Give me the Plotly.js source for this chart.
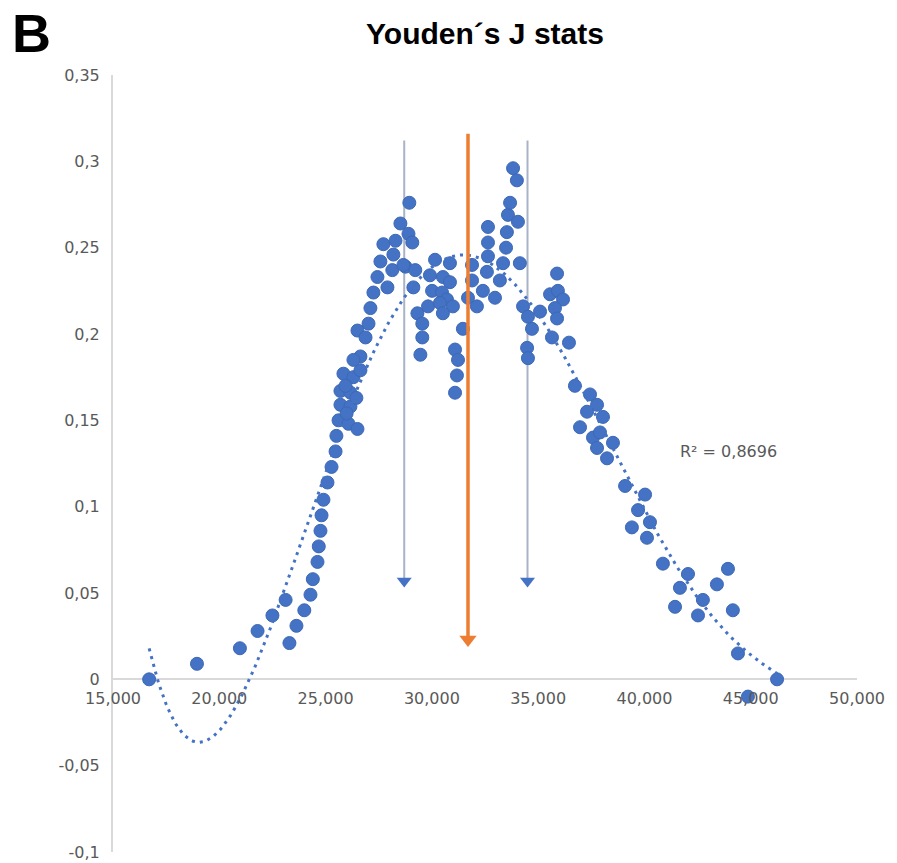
<!DOCTYPE html>
<html>
<head>
<meta charset="utf-8">
<script src="https://cdn.plot.ly/plotly-3.0.1.min.js"></script>
<style>html,body{margin:0;padding:0;background:#fff;}#chart{width:897px;height:863px;}</style>
</head>
<body>
<div id="chart"></div>
<script>
// ---- data ----
const cutoffX = [16700,18950,20970,21800,22500,23120,23300,23630,24000,24290,24400,24620,24680,24760,24810,24900,25090,25280,25470,25510,
  25610,26080,25700,26170,25700,26170,25840,26310,26640,26640,26310,25940,26450,25990,26500,
  26500,26880,27020,27110,27250,27440,27910,27580,28140,27720,28190,28290,28520,28900,29080,28940,28760,29220,29130,28660,
  29320,29550,29550,29460,
  30150,30850,29910,30520,30850,30010,30480,30710,29820,30380,30990,30520,31090,31230,31180,31090,31460,
  31890,31890,31700,32120,32400,32970,32640,32640,32640,32590,33200,33530,33490,33350,33580,34050,34140,33680,33820,34000,
  34290,34520,34710,34480,34520,35090,35890,35560,35930,36170,35790,35890,35650,36450,
  36730,37440,37770,37300,38050,36970,37580,37910,37770,38520,38240,
  39090,40030,39700,40260,39410,40120,40870,42050,41670,41440,42750,42520,43410,43930,44160,44400,46240,44870];
const youdenJ = [0.000,0.009,0.018,0.028,0.037,0.046,0.021,0.031,0.040,0.049,0.058,0.068,0.077,0.086,0.095,0.104,0.114,0.123,0.132,0.141,
  0.150,0.148,0.159,0.158,0.167,0.166,0.177,0.175,0.179,0.187,0.185,0.170,0.163,0.154,0.145,
  0.202,0.198,0.206,0.215,0.224,0.233,0.227,0.242,0.237,0.252,0.246,0.254,0.264,0.258,0.253,0.276,0.239,0.237,0.227,0.240,
  0.212,0.206,0.198,0.188,
  0.243,0.241,0.234,0.233,0.230,0.225,0.224,0.220,0.216,0.218,0.216,0.212,0.191,0.185,0.176,0.166,0.203,
  0.240,0.231,0.221,0.216,0.225,0.221,0.262,0.253,0.245,0.236,0.231,0.259,0.250,0.241,0.269,0.265,0.241,0.276,0.296,0.289,
  0.216,0.210,0.203,0.192,0.186,0.213,0.235,0.223,0.225,0.220,0.215,0.209,0.198,0.195,
  0.170,0.165,0.159,0.155,0.152,0.146,0.140,0.143,0.134,0.137,0.128,
  0.112,0.107,0.098,0.091,0.088,0.082,0.067,0.061,0.053,0.042,0.046,0.037,0.055,0.064,0.040,0.015,0.000,-0.010];

// vertical reference arrows (cut-off positions)
const arrowX    = [28700, 34500];
const arrowTop  = [0.312, 0.312];
const arrowTip  = [0.057, 0.057];
const mainArrowX   = [31700];
const mainArrowTop = [0.316];
const mainArrowTip = [0.023];

const xTickVals = [15000,20000,25000,30000,35000,40000,45000,50000];
const xTickText = ['15,000','20,000','25,000','30,000','35,000','40,000','45,000','50,000'];
const yTickVals = [-0.1,-0.05,0,0.05,0.1,0.15,0.2,0.25,0.3,0.35];
const yTickText = ['-0,1','-0,05','0','0,05','0,1','0,15','0,2','0,25','0,3','0,35'];

const r2Label = 'R² = 0,8696';
const r2Pos = [41600, 0.132];
const polyOrder = 6;

// ---- polynomial trendline (least squares, as the spreadsheet trendline) ----
function polyfit(xs, ys, deg, c, s) {
  const n = deg + 1;
  const A = Array.from({length:n}, () => new Array(n).fill(0));
  const b = new Array(n).fill(0);
  for (let k = 0; k < xs.length; k++) {
    const t = (xs[k] - c) / s;
    const p = [];
    for (let i = 0; i < n; i++) p.push(Math.pow(t, i));
    for (let i = 0; i < n; i++) {
      b[i] += p[i] * ys[k];
      for (let j = 0; j < n; j++) A[i][j] += p[i] * p[j];
    }
  }
  for (let i = 0; i < n; i++) {
    let m = i;
    for (let r = i + 1; r < n; r++) if (Math.abs(A[r][i]) > Math.abs(A[m][i])) m = r;
    [A[i], A[m]] = [A[m], A[i]]; [b[i], b[m]] = [b[m], b[i]];
    for (let r = i + 1; r < n; r++) {
      const f = A[r][i] / A[i][i];
      for (let j = i; j < n; j++) A[r][j] -= f * A[i][j];
      b[r] -= f * b[i];
    }
  }
  const coef = new Array(n).fill(0);
  for (let i = n - 1; i >= 0; i--) {
    let sum = b[i];
    for (let j = i + 1; j < n; j++) sum -= A[i][j] * coef[j];
    coef[i] = sum / A[i][i];
  }
  return coef;
}
const xmin = Math.min(...cutoffX), xmax = Math.max(...cutoffX);
const cC = (xmin + xmax) / 2, sC = (xmax - xmin) / 2;
const coef = polyfit(cutoffX, youdenJ, polyOrder, cC, sC);
const trendX = [], trendY = [];
for (let i = 0; i <= 300; i++) {
  const x = xmin + (xmax - xmin) * i / 300;
  const t = (x - cC) / sC;
  let y = 0;
  for (let j = coef.length - 1; j >= 0; j--) y = y * t + coef[j];
  trendX.push(x); trendY.push(y);
}

const tickFont = {family:'DejaVu Sans, sans-serif', size:16, color:'#595959'};

const traces = [
  {x: cutoffX, y: youdenJ, type:'scatter', mode:'markers',
   marker:{size:13, color:'#4472c4', line:{width:1, color:'#3d68b5'}}, hoverinfo:'x+y'},
  {x: trendX, y: trendY, type:'scatter', mode:'lines',
   line:{color:'#4472c4', width:3, dash:'3px,5px'}, hoverinfo:'skip'},
  {x: arrowX, y: arrowTip, type:'scatter', mode:'markers',
   marker:{symbol:'triangle-down', size:13, color:'#4472c4'}, hoverinfo:'skip'},
  {x: mainArrowX, y: mainArrowTip, type:'scatter', mode:'markers',
   marker:{symbol:'triangle-down', size:15, color:'#ed7d31'}, hoverinfo:'skip'}
];

const shapes = [];
arrowX.forEach((x, i) => shapes.push({type:'line', xref:'x', yref:'y', x0:x, x1:x, y0:arrowTop[i], y1:arrowTip[i],
  line:{color:'#a9b3c6', width:2}, layer:'below'}));
mainArrowX.forEach((x, i) => shapes.push({type:'line', xref:'x', yref:'y', x0:x, x1:x, y0:mainArrowTop[i], y1:mainArrowTip[i],
  line:{color:'#ed7d31', width:3.5}, layer:'above'}));

const layout = {
  width: 897, height: 863,
  margin: {l:113, r:40, t:75, b:11, pad:0},
  paper_bgcolor:'#ffffff', plot_bgcolor:'#ffffff',
  showlegend:false,
  title: {text:'Youden´s J stats', font:{family:'Liberation Sans, Arial, sans-serif', size:30, color:'#000', weight:'bold'},
          x:0.5, xref:'paper', xanchor:'center', y:1-33/863, yref:'container', yanchor:'middle'},
  xaxis: {range:[15000,50000], tickvals:xTickVals, ticktext:xTickText, anchor:'free', position:0.1/0.45,
          showgrid:false, zeroline:false, showline:false, ticks:'', tickfont:tickFont, ticklabelstandoff:8},
  yaxis: {range:[-0.1,0.35], tickvals:yTickVals, ticktext:yTickText, showgrid:false,
          zeroline:true, zerolinecolor:'#d9d9d9', zerolinewidth:2,
          showline:true, linecolor:'#d9d9d9', linewidth:2, ticks:'', tickfont:tickFont, ticklabelstandoff:8},
  shapes: shapes,
  annotations: [
    {text:'B', xref:'paper', yref:'paper', x:-103/744, y:1+74/777, xanchor:'left', yanchor:'top', showarrow:false,
     font:{family:'Liberation Sans, Arial, sans-serif', size:54, color:'#000', weight:'bold'}},
    {text:r2Label, xref:'x', yref:'y', x:r2Pos[0], y:r2Pos[1], xanchor:'left', yanchor:'middle', showarrow:false,
     font:{family:'DejaVu Sans, sans-serif', size:16, color:'#595959'}}
  ]
};

Plotly.newPlot('chart', traces, layout, {displayModeBar:false, staticPlot:true});
</script>
</body>
</html>
